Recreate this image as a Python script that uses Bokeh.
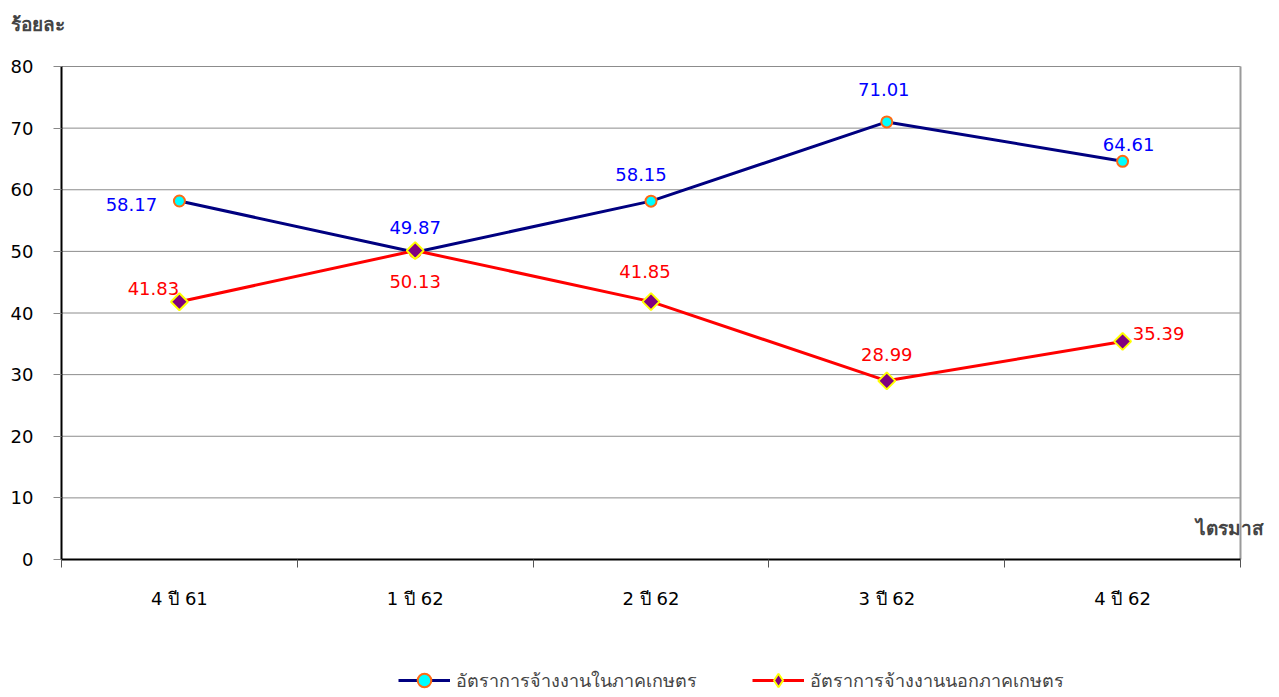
import math
from bokeh.plotting import figure
from bokeh.models import (ColumnDataSource, FixedTicker, Label, LabelSet, Legend, LegendItem,
                          Range1d, LinearAxis)
from bokeh.core.properties import value
from bokeh.embed import file_html
from bokeh.resources import INLINE

categories = ["4 ปี 61", "1 ปี 62", "2 ปี 62", "3 ปี 62", "4 ปี 62"]
agri = [58.17, 49.87, 58.15, 71.01, 64.61]
nonagri = [41.83, 50.13, 41.85, 28.99, 35.39]
series_names = ["อัตราการจ้างงานในภาคเกษตร", "อัตราการจ้างงานนอกภาคเกษตร"]
y_title = "ร้อยละ"
x_title = "ไตรมาส"
y_ticks = [0, 10, 20, 30, 40, 50, 60, 70, 80]

FONT = "DejaVu Sans"
n = len(categories)
xs = [i + 0.5 for i in range(n)]
ymax = y_ticks[-1]

# layout (pixels) of the plotting box inside the canvas
W, H = 1279, 697
LEFT, RIGHT, TOP, BOTTOM = 61, 1240, 66, 559
sx = (RIGHT - LEFT) / n
sy = (BOTTOM - TOP) / ymax
x_range = Range1d(-LEFT / sx, n + (W - RIGHT) / sx)
y_range = Range1d(-(H - BOTTOM) / sy, ymax + TOP / sy)

p = figure(width=W, height=H, output_backend="svg", toolbar_location=None,
           x_range=x_range, y_range=y_range, x_axis_location=None, y_axis_location=None,
           min_border=0)
p.outline_line_color = None
p.grid.visible = False

# grid lines and right border
p.segment(x0=[0] * len(y_ticks[1:]), x1=[n] * len(y_ticks[1:]), y0=y_ticks[1:], y1=y_ticks[1:],
          line_color="#8c8c8c", line_width=1)
p.segment(x0=[n], x1=[n], y0=[0], y1=[ymax], line_color="#9a9a9a", line_width=2)

# axes
xaxis = LinearAxis(fixed_location=0, bounds=(0, n))
xaxis.ticker = FixedTicker(ticks=xs, minor_ticks=list(range(n + 1)))
xaxis.major_label_overrides = {x: c for x, c in zip(xs, categories)}
xaxis.major_tick_line_color = None
xaxis.minor_tick_out = 8
xaxis.minor_tick_in = 0
xaxis.minor_tick_line_color = "#555555"
xaxis.axis_line_color = "black"
xaxis.axis_line_width = 2
xaxis.major_label_standoff = 20
xaxis.major_label_text_font = FONT
xaxis.major_label_text_font_size = "18px"
xaxis.major_label_text_color = "black"
p.add_layout(xaxis, "below")

yaxis = LinearAxis(fixed_location=0, bounds=(0, ymax))
yaxis.ticker = FixedTicker(ticks=y_ticks)
yaxis.minor_tick_line_color = None
yaxis.major_tick_out = 8
yaxis.major_tick_in = 0
yaxis.major_tick_line_color = "#888888"
yaxis.axis_line_color = "black"
yaxis.axis_line_width = 2
yaxis.major_label_standoff = 20
yaxis.major_label_text_font = FONT
yaxis.major_label_text_font_size = "18px"
yaxis.major_label_text_color = "black"
p.add_layout(yaxis, "left")

src = ColumnDataSource(dict(x=xs, a=agri, b=nonagri,
                            at=[f"{v:.2f}" for v in agri], bt=[f"{v:.2f}" for v in nonagri]))

l1 = p.line("x", "a", source=src, line_color="#000080", line_width=3)
m1 = p.scatter("x", "a", source=src, marker="circle", size=11, fill_color="#00ffff",
               line_color="#ff6a13", line_width=2)
l2 = p.line("x", "b", source=src, line_color="#ff0000", line_width=3)
m2 = p.scatter("x", "b", source=src, marker="square", angle=math.pi / 4, size=12,
               fill_color="#800080", line_color="#ffff00", line_width=2)
# diamond used only for the legend swatch
m2_leg = p.scatter("x", "b", source=src, marker="diamond", size=16,
                   fill_color="#800080", line_color="#ffff00", line_width=2, visible=False)

# label offsets (styling)
src.data["ax"] = [-48, 0, -10, -3, 6]
src.data["ay"] = [-3, 25, 27, 32, 17]
src.data["bx"] = [-26, 0, -6, 0, 36]
src.data["by"] = [13, -31, 30, 26, 8]

p.add_layout(LabelSet(x="x", y="a", text="at", source=src, x_offset="ax", y_offset="ay",
                      text_align="center", text_baseline="middle", text_font=value(FONT),
                      text_font_size="18px", text_color="#0000ff"))
p.add_layout(LabelSet(x="x", y="b", text="bt", source=src, x_offset="bx", y_offset="by",
                      text_align="center", text_baseline="middle", text_font=value(FONT),
                      text_font_size="18px", text_color="#ff0000"))

p.add_layout(Label(x=0, y=ymax, x_offset=-51, y_offset=43, text=y_title, text_font=FONT,
                   text_font_size="19px", text_font_style="bold", text_baseline="middle",
                   text_align="left"))
p.add_layout(Label(x=n, y=0, x_offset=-45, y_offset=32, text=x_title, text_font=FONT,
                   text_font_size="19px", text_font_style="bold", text_baseline="middle",
                   text_align="left"))

legend = Legend(items=[LegendItem(label=series_names[0], renderers=[l1, m1]),
                       LegendItem(label=series_names[1], renderers=[l2, m2_leg])],
                orientation="horizontal", location=(398, 0),
                glyph_width=52, glyph_height=34, label_standoff=6, spacing=55,
                label_text_font=FONT, label_text_font_size="18px",
                border_line_color=None, background_fill_alpha=0, padding=0, margin=0)
p.add_layout(legend, "center")

open("out.html", "w").write(file_html(p, INLINE))
